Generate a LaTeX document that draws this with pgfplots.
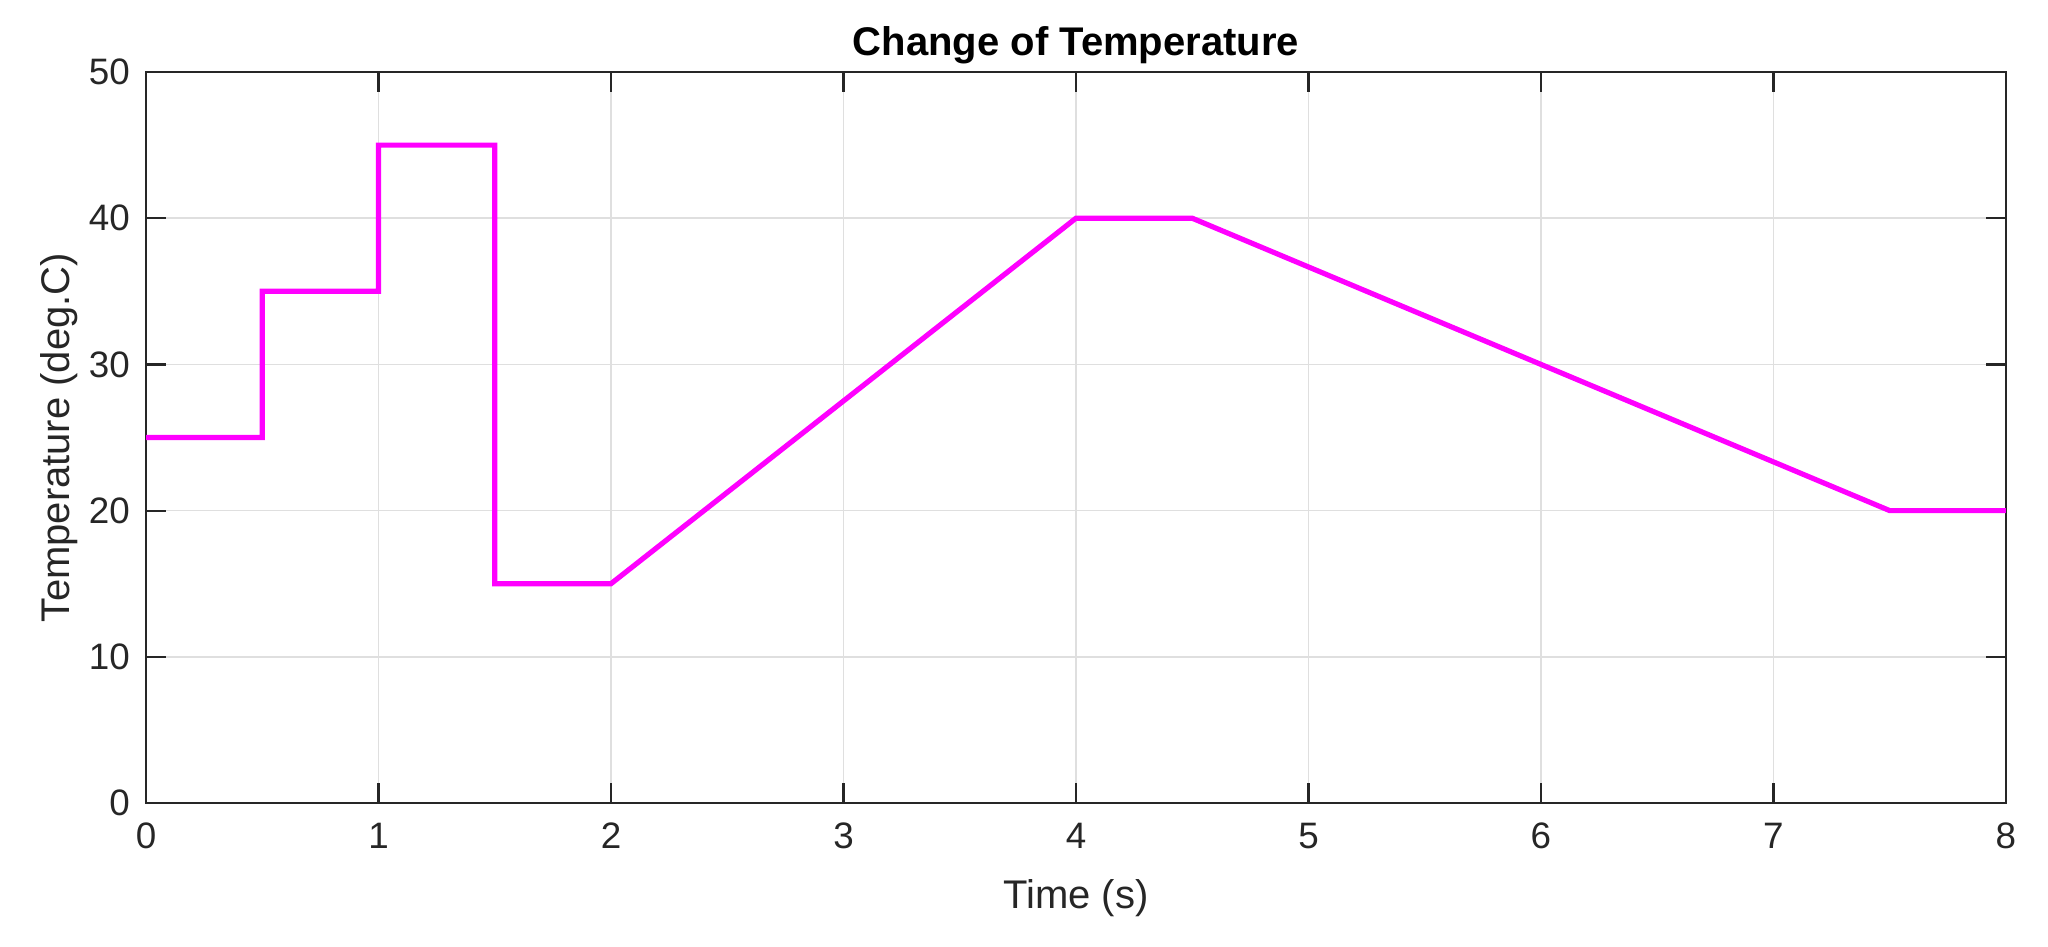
\documentclass[border=0pt]{standalone}
\usepackage{fontspec}
\setmainfont{Liberation Sans}
\usepackage{pgfplots}
\pgfplotsset{compat=1.18}
\definecolor{axc}{RGB}{38,38,38}
\definecolor{gridc}{RGB}{223,223,223}
\definecolor{mag}{RGB}{255,0,255}

\begin{document}
\begin{tikzpicture}
\useasboundingbox (-36.5pt,-35.75pt) rectangle (475.5pt,200.75pt);
\begin{axis}[at={(0,0)},anchor=south west,
  scale only axis,width=465pt,height=182.75pt,
  xmin=0,xmax=8,ymin=0,ymax=50,
  xtick={0,1,...,8},ytick={0,10,...,50},
  grid=major,grid style={gridc,line width=0.4pt},
  axis line style={axc,line width=0.55pt},
  tick style={axc,line width=0.55pt},
  tick align=inside,major tick length=5pt,
  xtick pos=both,ytick pos=both,
  tick label style={font=\fontsize{9.2}{10}\selectfont,text=axc},
  /pgf/number format/assume math mode=true,
  xticklabel style={yshift=-1.5pt},
  yticklabel style={xshift=-0.5pt},
  xlabel={Time (s)},ylabel={Temperature (deg.C)},
  label style={font=\fontsize{10}{11}\selectfont,text=axc},
  xlabel style={yshift=-0.6pt},
  ylabel style={yshift=-4pt},
  title={\textbf{Change of Temperature}},
  title style={font=\fontsize{10}{11}\selectfont,yshift=-7.6pt},
  ]
\addplot[mag,line width=1.3pt] coordinates {
  (0,25) (0.5,25) (0.5,35) (1,35) (1,45) (1.5,45) (1.5,15) (2,15)
  (4,40) (4.5,40) (7.5,20) (8,20)};
\end{axis}
\end{tikzpicture}
\end{document}
